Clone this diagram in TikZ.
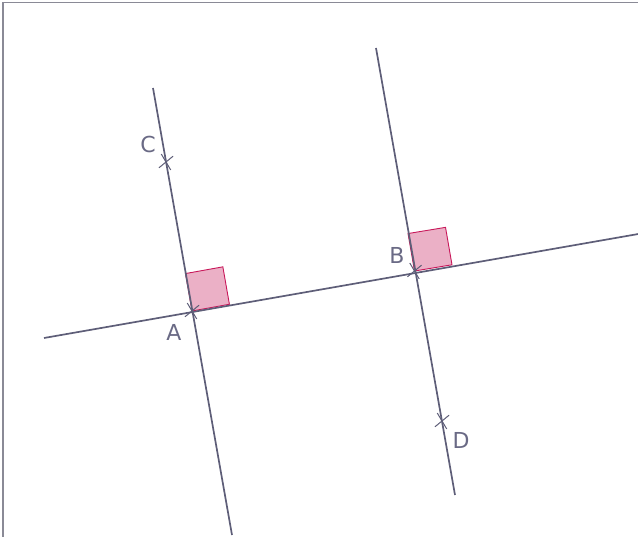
\documentclass[tikz,border=0pt]{standalone}
\usepackage{fontspec}
\setmainfont{DejaVu Sans}
\usetikzlibrary{calc,shapes.misc}
\definecolor{ln}{HTML}{5E5E78}
\definecolor{lab}{HTML}{6A6A85}
\definecolor{sqfill}{HTML}{EBB0C6}
\definecolor{sqdraw}{HTML}{C8185A}
\definecolor{frame}{HTML}{8A8A96}
\tikzset{
  geoline/.style={draw=ln, line width=1.7pt},
  ptmark/.style={cross out, draw=ln, line width=1pt, minimum width=11pt, minimum height=13pt, inner sep=0pt},
  ptlabel/.style={text=lab, font=\fontsize{22}{24}\selectfont, inner sep=0pt},
  rightsq/.style={fill=sqfill, draw=sqdraw, line width=0.9pt},
}
\begin{document}
\begin{tikzpicture}[x=1pt,y=-1pt]
\useasboundingbox (0,0) rectangle (638,537);
\draw[frame, line width=1.3pt] (3,545) -- (3,2.5) -- (645,2.5);
% points
\coordinate (A) at (192,311);
\coordinate (B) at (414.5,271);
\coordinate (C) at (166,162);
\coordinate (D) at (442,421);
\coordinate (L1) at (44,338);
\coordinate (L2) at (640,233.7);
\coordinate (a1) at (153,88);
\coordinate (a2) at (232,535);
\coordinate (b1) at (376,48);
\coordinate (b2) at (455,495);
% right angle squares
\coordinate (pa1) at ($(A)!38pt!(B)$);
\coordinate (pa2) at ($(A)!38pt!(C)$);
\coordinate (pa3) at ($(pa1)+(pa2)-(A)$);
\draw[rightsq] (A) -- (pa1) -- (pa3) -- (pa2) -- cycle;
\coordinate (pb1) at ($(B)!38pt!(L2)$);
\coordinate (pb2) at ($(B)!38pt!(b1)$);
\coordinate (pb3) at ($(pb1)+(pb2)-(B)$);
\draw[rightsq] (B) -- (pb1) -- (pb3) -- (pb2) -- cycle;
% lines
\draw[geoline] (L1) -- (L2);
\draw[geoline] (a1) -- (a2);
\draw[geoline] (b1) -- (b2);
% marks
\node[ptmark, rotate=-10] (mA) at (A) {};
\node[ptmark, rotate=-10] (mB) at (B) {};
\node[ptmark, rotate=-10] (mC) at (C) {};
\node[ptmark, rotate=-10] (mD) at (D) {};
% labels
\node[ptlabel] (tA) at (174,332) {A};
\node[ptlabel] (tB) at (397,255) {B};
\node[ptlabel] (tC) at (148,144) {C};
\node[ptlabel] (tD) at (461,440) {D};
\end{tikzpicture}
\end{document}
